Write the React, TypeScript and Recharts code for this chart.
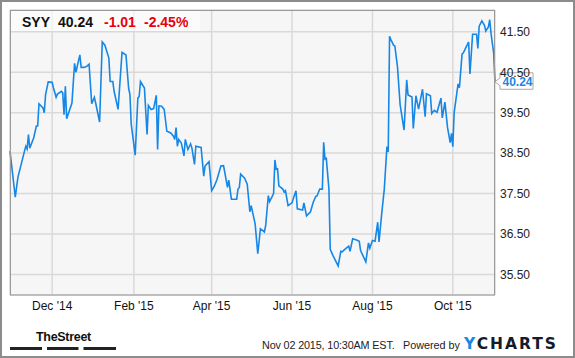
import React from 'react';
import { LineChart, Line, XAxis, YAxis, CartesianGrid, ReferenceDot } from 'recharts';

const dates = [
  '2014-10-30','2014-11-03','2014-11-05','2014-11-10','2014-11-11','2014-11-12','2014-11-13','2014-11-14','2014-11-17','2014-11-19',
  '2014-11-20','2014-11-21','2014-11-24','2014-11-25','2014-11-26','2014-11-28','2014-12-01','2014-12-02','2014-12-04','2014-12-05',
  '2014-12-08','2014-12-09','2014-12-10','2014-12-11','2014-12-12','2014-12-13','2014-12-16','2014-12-18','2014-12-19','2014-12-22',
  '2014-12-23','2014-12-25','2014-12-27','2014-12-29','2014-12-31','2015-01-02','2015-01-03','2015-01-06','2015-01-08','2015-01-10',
  '2015-01-13','2015-01-14','2015-01-16','2015-01-17','2015-01-20','2015-01-23','2015-01-24','2015-01-26','2015-01-28','2015-01-29',
  '2015-01-30','2015-02-02','2015-02-04','2015-02-05','2015-02-06','2015-02-09','2015-02-11','2015-02-12','2015-02-14','2015-02-16',
  '2015-02-18','2015-02-19','2015-02-20','2015-02-22','2015-02-24','2015-02-26','2015-03-01','2015-03-03','2015-03-04','2015-03-05',
  '2015-03-06','2015-03-07','2015-03-09','2015-03-11','2015-03-12','2015-03-14','2015-03-16','2015-03-17','2015-03-19','2015-03-20',
  '2015-03-24','2015-03-26','2015-03-27','2015-03-30','2015-04-01','2015-04-03','2015-04-05','2015-04-08','2015-04-10','2015-04-11',
  '2015-04-13','2015-04-14','2015-04-16','2015-04-20','2015-04-21','2015-04-22','2015-04-23','2015-04-26','2015-04-28','2015-04-30',
  '2015-05-01','2015-05-04','2015-05-06','2015-05-08','2015-05-11','2015-05-12','2015-05-14','2015-05-15','2015-05-18','2015-05-19',
  '2015-05-20','2015-05-21','2015-05-22','2015-05-25','2015-05-26','2015-05-27','2015-05-29','2015-06-01','2015-06-02','2015-06-04',
  '2015-06-05','2015-06-09','2015-06-10','2015-06-12','2015-06-15','2015-06-17','2015-06-19','2015-06-20','2015-06-22','2015-06-24',
  '2015-06-25','2015-06-26','2015-06-27','2015-06-29','2015-06-30','2015-07-02','2015-07-06','2015-07-08','2015-07-09','2015-07-11',
  '2015-07-14','2015-07-15','2015-07-17','2015-07-20','2015-07-22','2015-07-23','2015-07-27','2015-07-29','2015-07-30','2015-08-01',
  '2015-08-03','2015-08-05','2015-08-06','2015-08-08','2015-08-10','2015-08-12','2015-08-13','2015-08-14','2015-08-15','2015-08-17',
  '2015-08-18','2015-08-20','2015-08-22','2015-08-25','2015-08-27','2015-08-28','2015-08-31','2015-09-01','2015-09-03','2015-09-05',
  '2015-09-08','2015-09-10','2015-09-11','2015-09-14','2015-09-15','2015-09-17','2015-09-19','2015-09-22','2015-09-23','2015-09-25',
  '2015-09-27','2015-09-29','2015-09-30','2015-10-01','2015-10-02','2015-10-05','2015-10-06','2015-10-08','2015-10-09','2015-10-13',
  '2015-10-14','2015-10-16','2015-10-19','2015-10-20','2015-10-21','2015-10-23','2015-10-25','2015-10-26','2015-10-28','2015-10-29',
  '2015-10-30','2015-11-01','2015-11-02'
];

const prices = [
  38.55,37.41,37.90,38.55,38.67,38.60,38.96,38.62,38.88,39.17,
  39.17,39.72,39.62,39.50,39.95,40.26,40.25,40.11,39.88,39.96,
  40.03,39.99,39.45,40.15,39.35,39.45,39.74,40.72,40.50,40.93,
  40.62,40.62,40.64,40.70,39.72,39.88,39.74,39.27,41.25,41.17,
  40.85,40.27,40.27,40.03,39.58,40.99,40.97,40.93,40.11,39.95,
  39.21,38.45,39.86,39.90,40.27,40.11,38.96,39.68,39.58,39.60,
  39.93,38.59,39.67,39.66,39.58,39.04,39.00,38.92,38.84,39.13,
  38.67,38.84,38.75,38.43,38.84,38.59,38.73,38.63,38.22,38.67,
  38.64,37.93,38.18,38.29,37.57,37.68,37.84,38.18,38.19,38.02,
  37.65,37.83,37.36,37.36,37.61,37.65,37.98,37.88,37.73,37.05,
  37.20,36.75,36.01,36.63,36.55,36.71,37.45,37.30,37.50,38.33,
  38.10,38.11,37.69,37.61,37.54,37.57,37.20,37.27,37.38,37.57,
  37.12,37.09,37.27,36.95,37.05,37.28,37.43,37.44,37.61,37.61,
  38.77,38.35,38.37,37.61,36.12,35.97,35.71,36.07,36.06,36.12,
  36.20,36.07,36.38,36.35,36.32,36.09,35.81,36.28,36.15,36.34,
  36.32,36.79,36.30,36.99,37.61,38.66,38.53,41.39,41.31,41.17,
  41.15,40.64,39.70,39.07,40.31,39.94,39.89,39.11,39.92,39.59,
  40.08,39.40,39.97,39.92,39.48,39.56,39.51,39.86,39.37,39.76,
  39.13,38.76,38.99,38.66,39.50,40.21,40.12,40.95,40.98,41.25,
  40.46,41.44,41.44,41.09,41.64,41.77,41.66,41.52,41.62,41.80,
  41.46,40.97,40.24
];

const xTickDates = ['2014-12-01', '2015-02-01', '2015-04-01', '2015-06-01', '2015-08-01', '2015-10-01'];
const xTickLabels = ["Dec '14", "Feb '15", "Apr '15", "Jun '15", "Aug '15", "Oct '15"];
const yTicks = [35.5, 36.5, 37.5, 38.5, 39.5, 40.5, 41.5];
const yDomain = [34.99, 42.04];

const ticker = 'SYY';
const lastPrice = '40.24';
const change = '-1.01';
const changePct = '-2.45%';
const stampText = 'Nov 02 2015, 10:30AM EST.';
const poweredText = 'Powered by';

const toTime = (s: string) => {
  const [y, m, d] = s.split('-').map(Number);
  return Date.UTC(y, m - 1, d);
};

const data = dates.map((d, i) => ({ t: toTime(d), price: prices[i] }));
const xTicks = xTickDates.map(toTime);
const tickLabelFor = (v: number) => {
  const i = xTicks.indexOf(v);
  return i >= 0 ? xTickLabels[i] : '';
};

const FONT = "Arial, 'Liberation Sans', sans-serif";
const BLUE = '#1787e6';

const PriceFlag = (props: any) => {
  const { cx, cy } = props;
  if (cx == null || cy == null) return null;
  const tipY = cy - 1;
  const left = cx + 5;
  const right = cx + 38;
  const top = tipY - 9;
  const bottom = tipY + 7.5;
  const path = `M${cx},${tipY} L${left},${tipY - 4} L${left},${top} L${right},${top} L${right},${bottom} L${left},${bottom} L${left},${tipY + 4} Z`;
  return (
    <g>
      <path d={path} fill="#ffffff" stroke="#a8a8a8" strokeWidth={1} />
      <text x={left + 2.5} y={tipY + 4} fontFamily={FONT} fontSize={12} fontWeight="bold" fill={BLUE}>
        {lastPrice}
      </text>
    </g>
  );
};

export default function App() {
  return (
    <div style={{ position: 'absolute', left: 0, top: 0, width: 575, height: 358, background: '#fff' }}>
      <LineChart
        width={575}
        height={358}
        data={data}
        margin={{ top: 10, right: 0, bottom: 33, left: 10 }}
      >
        <CartesianGrid stroke="#d9d9d9" strokeWidth={1.5} fill="#f6f6f6" />
        <XAxis
          dataKey="t"
          type="number"
          domain={['dataMin', 'dataMax']}
          ticks={xTicks}
          tickFormatter={tickLabelFor}
          height={30}
          tickSize={0}
          tickMargin={6}
          axisLine={false}
          tickLine={false}
          tick={{ fontFamily: FONT, fontSize: 12, fill: '#111' }}
          interval={0}
        />
        <YAxis
          orientation="right"
          domain={yDomain}
          ticks={yTicks}
          tickFormatter={(v: number) => v.toFixed(2)}
          width={80}
          tickSize={0}
          tickMargin={5}
          axisLine={false}
          tickLine={false}
          tick={{ fontFamily: FONT, fontSize: 12, fill: '#222', textAnchor: 'start' }}
          allowDataOverflow
          interval={0}
        />
        <Line
          type="linear"
          dataKey="price"
          stroke={BLUE}
          strokeWidth={1.6}
          dot={false}
          isAnimationActive={false}
        />
        <ReferenceDot
          x={data[data.length - 1].t}
          y={data[data.length - 1].price}
          r={0}
          ifOverflow="visible"
          shape={PriceFlag}
        />
      </LineChart>
      <svg
        width={575}
        height={358}
        style={{ position: 'absolute', left: 0, top: 0, pointerEvents: 'none' }}
      >
        <rect x={1} y={1} width={573} height={356} fill="none" stroke="#8c8c8c" strokeWidth={2} />
        <rect x={10.5} y={10.5} width={484} height={284.5} fill="none" stroke="#9a9a9a" strokeWidth={1} />
        <rect x={11} y={11} width={189} height={20} fill="#ffffff" fillOpacity={0.6} />
        <text y={27} fontFamily={FONT} fontSize={14} fontWeight="bold">
          <tspan x={22} fill="#111">{ticker}</tspan>
          <tspan x={58} fill="#111">{lastPrice}</tspan>
          <tspan x={104} fill="#e8000b">{change}</tspan>
          <tspan x={144} fill="#e8000b">{changePct}</tspan>
        </text>
        <text x={36} y={341} fontFamily={FONT} fontSize={12.5} fontWeight="bold" fill="#111" letterSpacing={-0.3}>
          TheStreet
        </text>
        <rect x={10} y={347} width={32} height={3} fill="#222" />
        <rect x={47} y={347} width={31.5} height={3} fill="#222" />
        <rect x={83.5} y={347} width={32.5} height={3} fill="#222" />
        <text x={262} y={349} fontFamily={FONT} fontSize={10.8} fill="#222" letterSpacing={-0.15}>
          {stampText}
        </text>
        <text x={403} y={349} fontFamily={FONT} fontSize={10.8} fill="#222">
          {poweredText}
        </text>
        <text x={464} y={349} fontFamily="'DejaVu Sans', sans-serif" fontSize={15.5} fontWeight="bold" letterSpacing={2}>
          <tspan fill={BLUE}>Y</tspan>
          <tspan fill="#141c2b">CHARTS</tspan>
        </text>
      </svg>
    </div>
  );
}
